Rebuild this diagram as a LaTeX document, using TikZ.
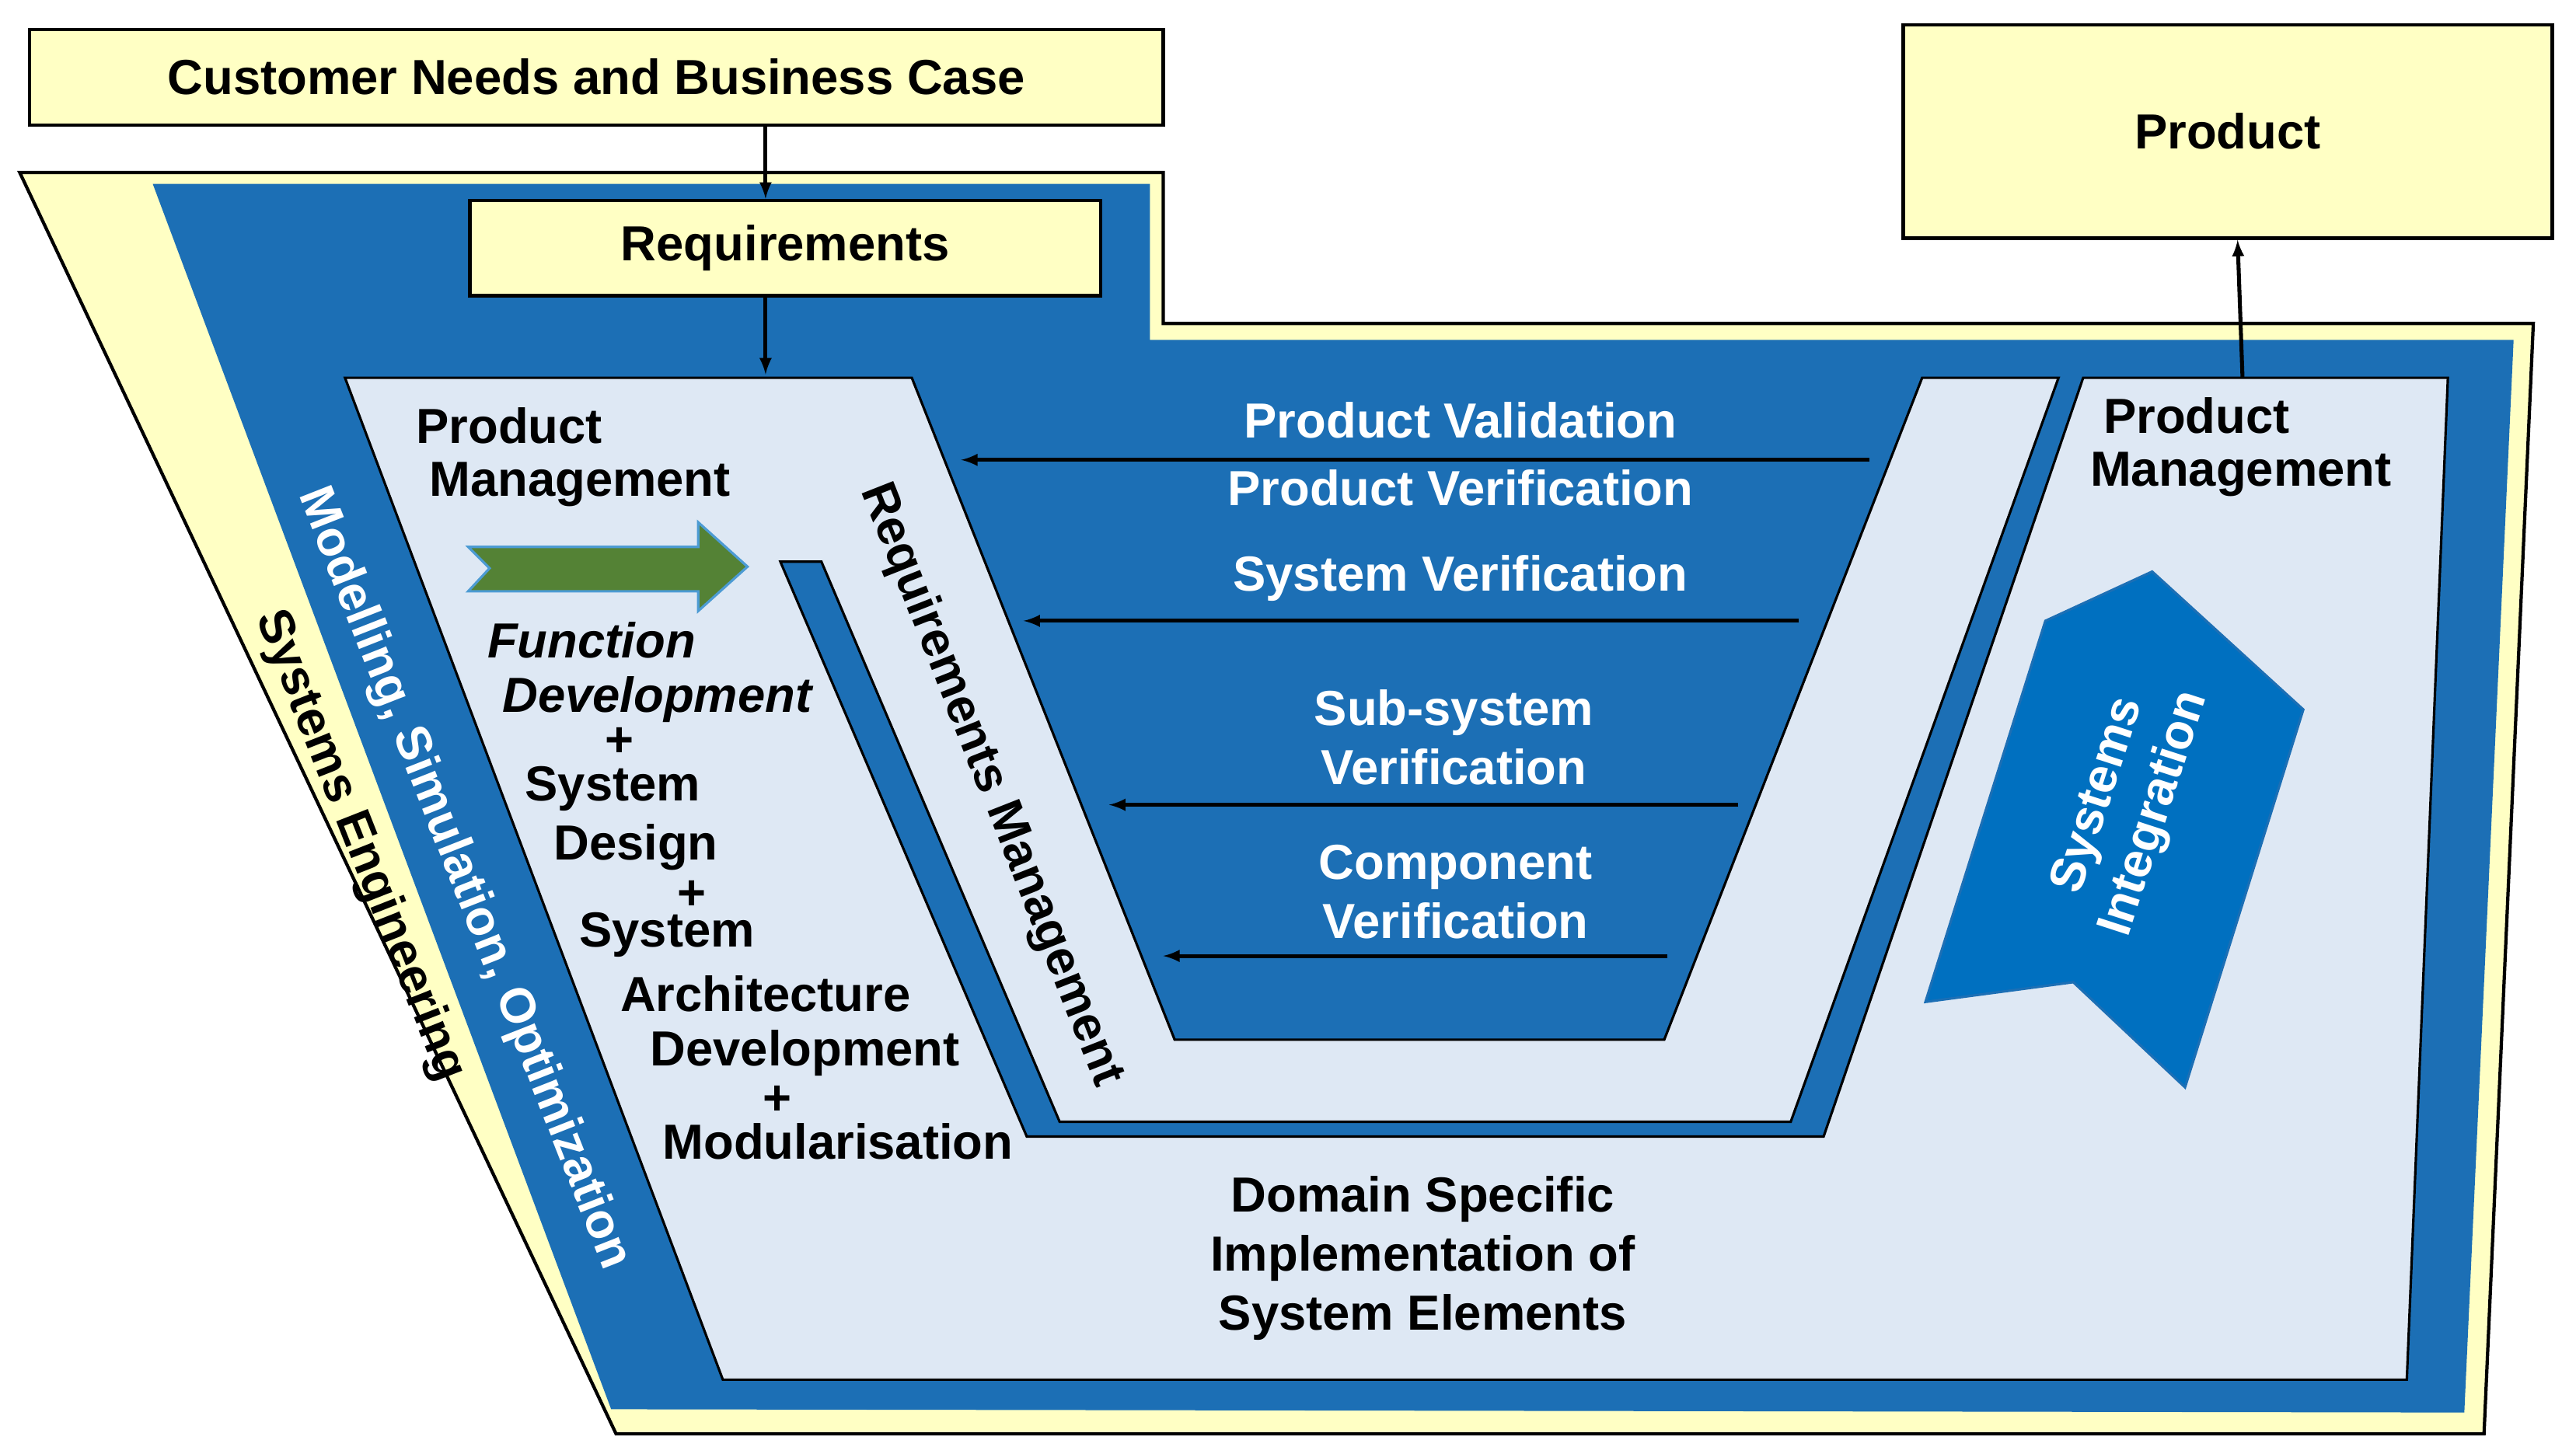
\documentclass[tikz,border=0pt]{standalone}
\usepackage{fontspec}
\setmainfont{Liberation Sans}
\begin{document}
\definecolor{yel}{HTML}{FFFFC4}
\definecolor{blu}{HTML}{1C6FB5}
\definecolor{lig}{HTML}{DEE8F4}
\definecolor{sib}{HTML}{0070C0}
\definecolor{grn}{HTML}{548235}
\begin{tikzpicture}[x=1pt,y=-1pt,
  every node/.style={font=\fontsize{30}{36}\selectfont\bfseries},
  box/.style={draw=black,line width=2pt,fill=yel},
  wt/.style={text=white,align=center},
  bt/.style={text=black,align=center},
  arr/.style={-latex,line width=2.4pt}]
\useasboundingbox (0,0) rectangle (1568,885);
% outer yellow
\draw[box] (12,105) -- (708,105) -- (708,197) -- (1542,197) -- (1512,873) -- (375,873) -- cycle;
% blue
\fill[blu] (93,112) -- (700,112) -- (700,207) -- (1530,207) -- (1500,860) -- (372,858) -- cycle;
% light region
\draw[fill=lig,line width=1.5pt] (210,230) -- (555,230) -- (715,633) -- (1013,633) -- (1170,230) -- (1253,230) -- (1090,683) -- (645,683) -- (500,342) -- (475,342) -- (625,692) -- (1110,692) -- (1268,230) -- (1490,230) -- (1465,840) -- (440,840) -- cycle;
% boxes
\node[box,minimum width=690,minimum height=58] (cust) at (363,47) {Customer Needs and Business Case};
\node[box,minimum width=384,minimum height=58] (req) at (478,151) {Requirements};
\node[box,minimum width=395,minimum height=130] (prod) at (1356,80) {Product};
\coordinate (reqin) at (466,228);
\coordinate (pmtop) at (1365,230);
\draw[arr] (cust.south -| 466,0) -- (req.north -| 466,0);
\draw[arr] (req.south -| 466,0) -- (reqin);
\draw[arr] (pmtop) -- (prod.south -| 1362,0);
% green arrow
\draw[fill=grn,draw=sib!70,line width=1.5pt] (285,333) -- (425,333) -- (425,318) -- (455,345) -- (425,372) -- (425,360) -- (285,360) -- (298,346) -- cycle;
% systems integration arrow
\draw[fill=sib,draw=blu,line width=1.5pt] (1172,610) -- (1245,378) -- (1310,348) -- (1402,432) -- (1330,662) -- (1262,598) -- cycle;
\node[wt,rotate=72] (si) at (1295,490) {Systems\\Integration};
% V arrows
\coordinate (a1s) at (1138,280); \coordinate (a1e) at (585,280);
\coordinate (a2s) at (1095,378); \coordinate (a2e) at (623,378);
\coordinate (a3s) at (1058,490); \coordinate (a3e) at (675,490);
\coordinate (a4s) at (1015,582); \coordinate (a4e) at (708,582);
\draw[arr] (a1s) -- (a1e);
\draw[arr] (a2s) -- (a2e);
\draw[arr] (a3s) -- (a3e);
\draw[arr] (a4s) -- (a4e);
\node[wt] (pv) at (889,256) {Product Validation};
\node[wt] (pver) at (889,297) {Product Verification};
\node[wt] (sv) at (889,352) {System Verification};
\node[wt] (ssv) at (885,449) {Sub-system\\Verification};
\node[wt] (cv) at (886,543) {Component\\Verification};
% left texts
\node[bt] (pml1) at (310,259) {Product};
\node[bt] (pml2) at (353,295) {Management};
\node[bt] (pmr1) at (1337,253) {Product};
\node[bt] (pmr2) at (1364,289) {Management};
\node[bt,font=\fontsize{30}{36}\selectfont\bfseries\itshape] (f1) at (360,390) {Function};
\node[bt,font=\fontsize{30}{36}\selectfont\bfseries\itshape] (f2) at (400,426) {Development};
\node[bt] (p1) at (377,452) {+};
\node[bt] (s1) at (373,480) {System};
\node[bt] (s2) at (387,516) {Design};
\node[bt] (p2) at (421,545) {+};
\node[bt] (s3) at (406,569) {System};
\node[bt] (s4) at (466,605) {Architecture};
\node[bt] (s5) at (490,641) {Development};
\node[bt] (p3) at (473,670) {+};
\node[bt] (s6) at (510,695) {Modularisation};
\node[bt] (dom) at (866,766) {Domain Specific\\Implementation of\\System Elements};
% rotated
\node[bt,rotate=-68.5] (rm) at (603,478) {Requirements Management};
\node[wt,rotate=-68.5] (msm) at (282,535) {Modelling, Simulation, Optimization};
\node[bt,rotate=-68.5] (se) at (219,515) {Systems Engineering};
\end{tikzpicture}
\end{document}
